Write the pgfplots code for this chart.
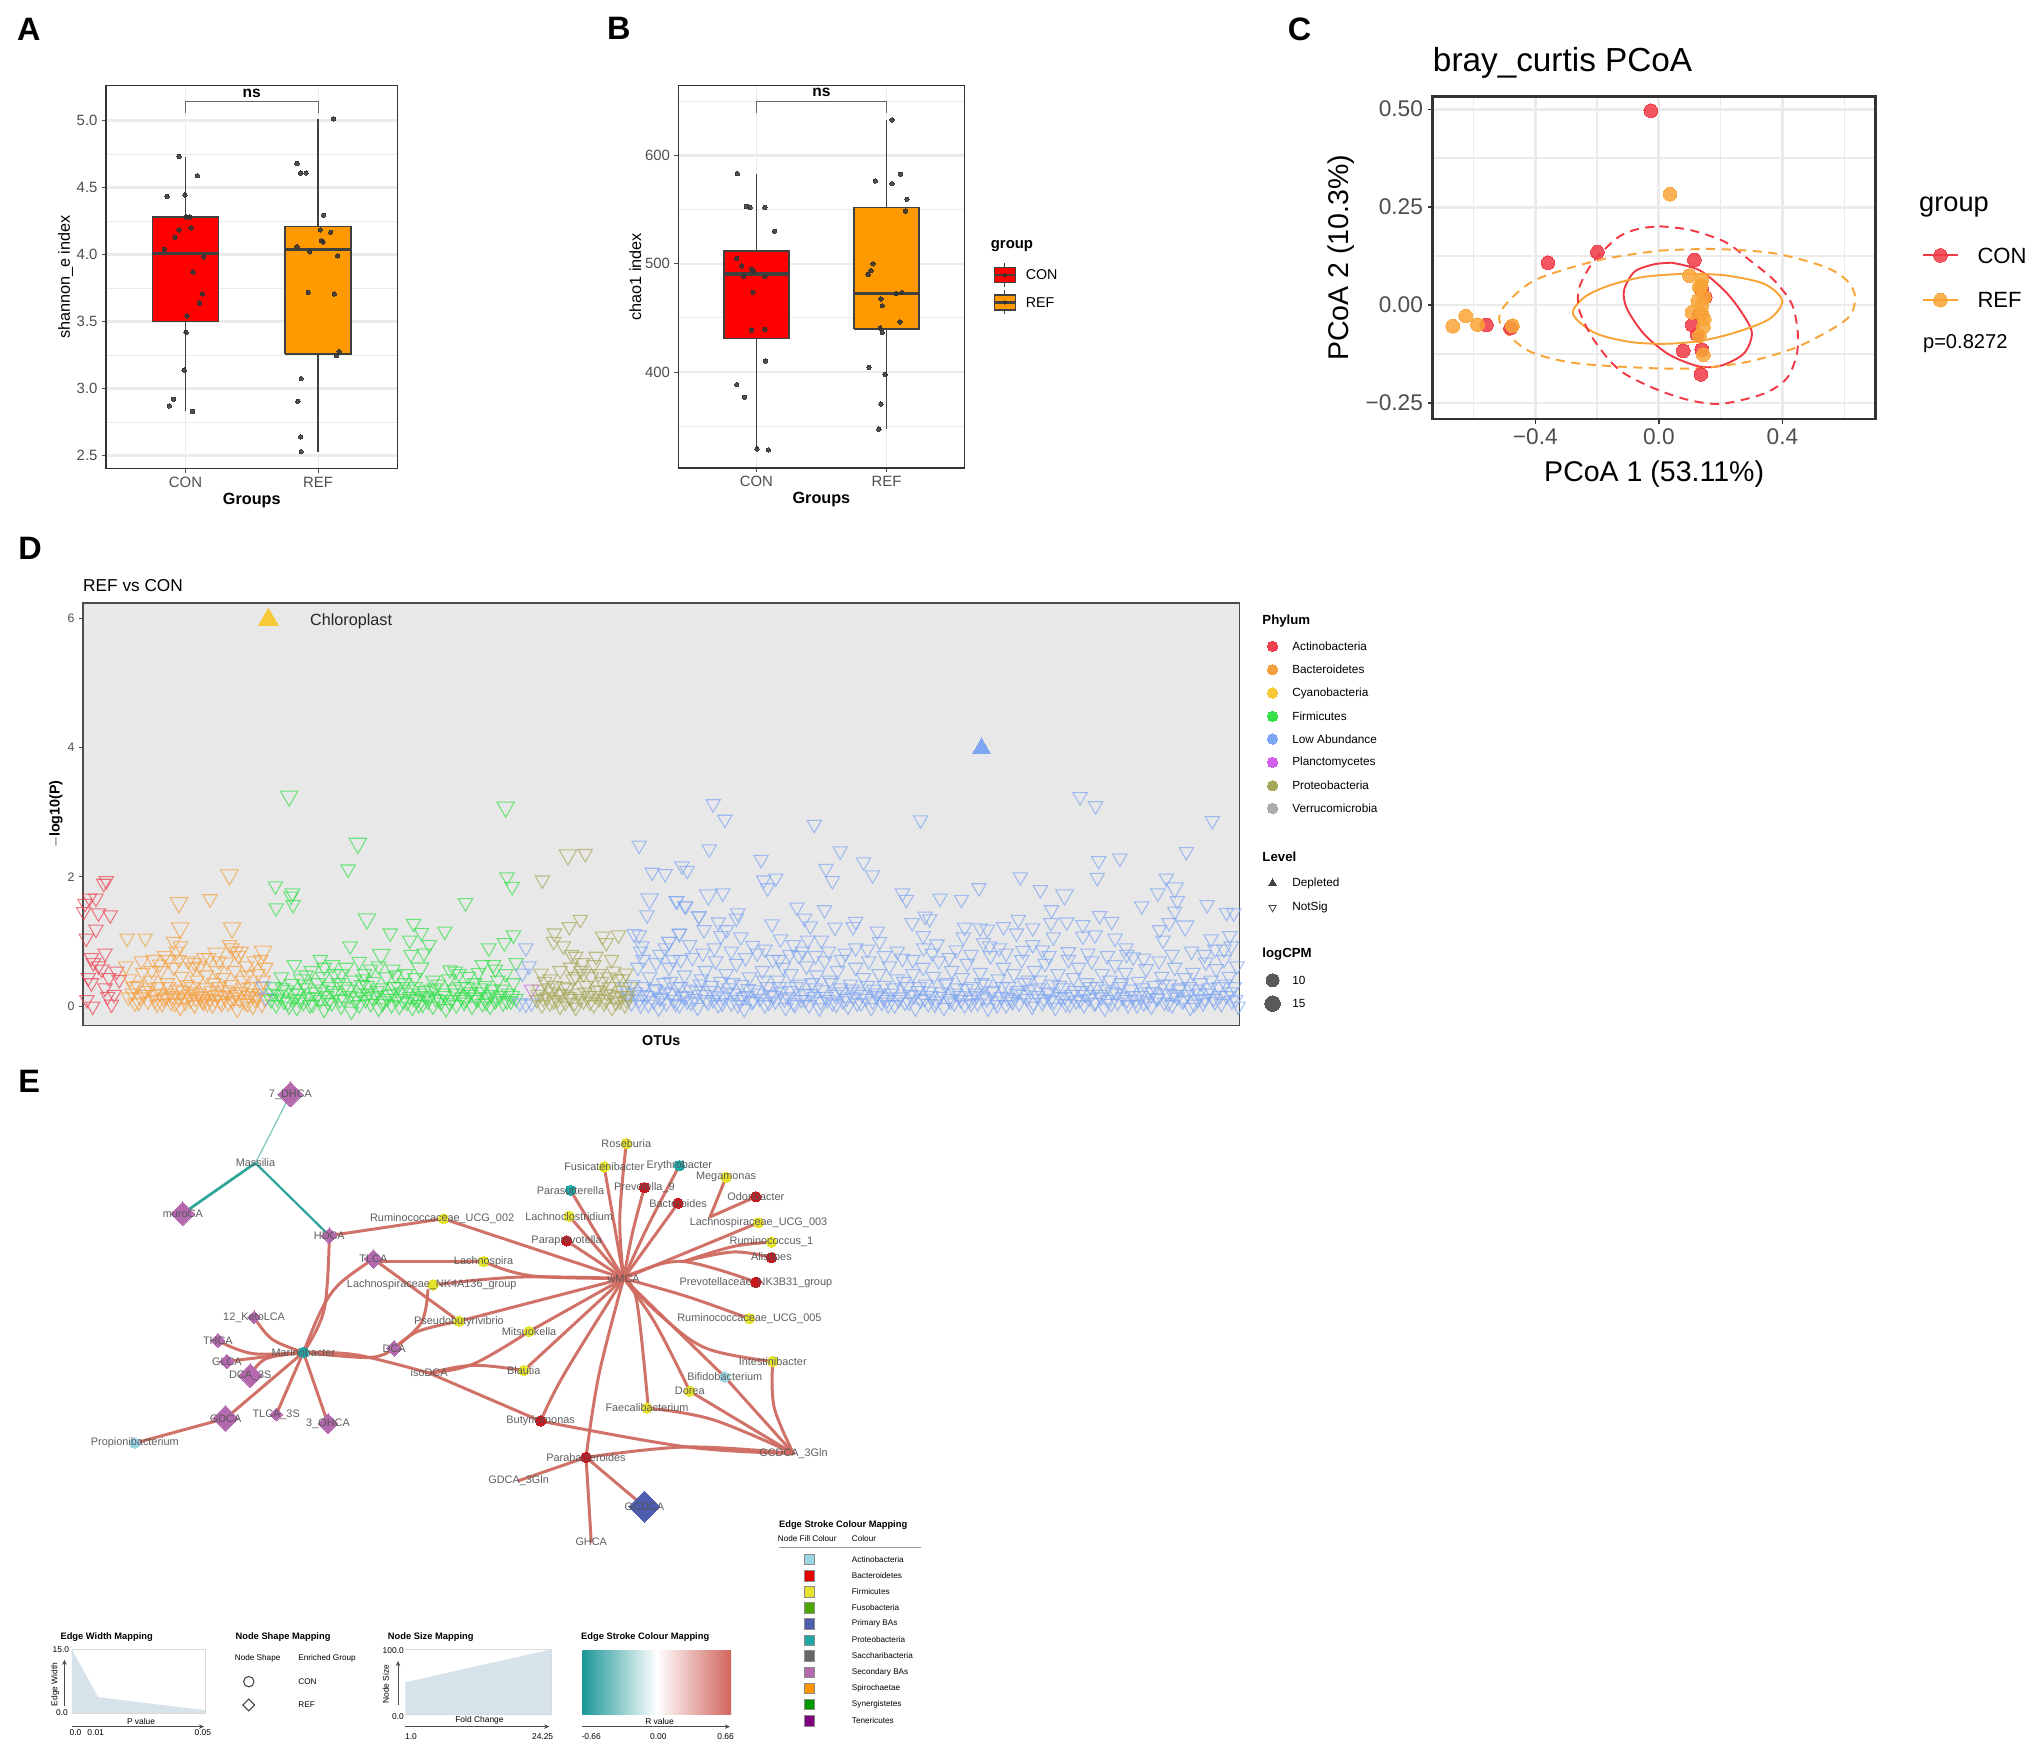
\documentclass[border=0pt]{standalone}
\usepackage{fontspec}
\setmainfont{Liberation Sans}
\usepackage{pgfplots}
\pgfplotsset{compat=1.18}
\usetikzlibrary{arrows.meta}

\definecolor{gridc}{HTML}{EBEBEB}
\definecolor{framec}{HTML}{333333}
\definecolor{tickc}{HTML}{4D4D4D}
\definecolor{conred}{HTML}{F03A45}
\definecolor{reforange}{HTML}{F9A436}
\definecolor{boxorange}{HTML}{FF9900}
\definecolor{actc}{HTML}{EE4050}
\definecolor{bacc}{HTML}{F5A040}
\definecolor{cyac}{HTML}{F8C937}
\definecolor{firc}{HTML}{34E04A}
\definecolor{lowc}{HTML}{7FA6F2}
\definecolor{plac}{HTML}{D060E8}
\definecolor{proc}{HTML}{A8A85A}
\definecolor{verc}{HTML}{ABABAB}
\definecolor{dbg}{HTML}{E8E8E8}
\definecolor{edgec}{HTML}{CF6A60}
\definecolor{edgeteal}{HTML}{2FA59A}
\definecolor{secba}{HTML}{B469AE}
\definecolor{priba}{HTML}{4E5DB0}
\definecolor{nodey}{HTML}{E6E32E}
\definecolor{noder}{HTML}{C8161E}
\definecolor{nodet}{HTML}{1FA8A8}
\definecolor{nodeb}{HTML}{9DD6E6}
\definecolor{netlab}{HTML}{555555}
\definecolor{areac}{HTML}{D7E3EB}

\newcommand{\fs}[1]{\fontsize{#1}{#1}\selectfont}

\pgfplotsset{
  boxpanel/.style={
    anchor=south west, scale only axis,
    axis line style={framec,line width=1.2pt},
    tick style={tickc,line width=0.7pt},
    major tick length=3pt, minor tick length=0pt,
    xtick pos=bottom, ytick pos=left,
    tick align=outside,
    grid=both,
    major grid style={gridc,line width=2pt},
    minor grid style={gridc,line width=0.8pt},
    x grid style={gridc,line width=0.6pt},
    tick label style={font=\fs{11.5},text=tickc},
    xlabel style={font=\fs{12.5}\bfseries,yshift=3pt},
    ylabel style={font=\fs{12.5},yshift=-4pt},
    xtick={1,2}, xticklabels={CON,REF},
    xmin=0.4, xmax=2.6,
  },
  canvas/.style={anchor=south west, scale only axis, at={(0pt,0pt)}, width=1568pt, height=1347pt,
    xmin=0, xmax=1568, ymin=0, ymax=1347, y dir=reverse, hide axis, clip=false},
  jit/.style={only marks,mark=*,mark size=1.7pt,mark options={draw=black!80,line width=0pt,fill=black!80,opacity=0.85}},
  bx/.style={draw=black!75,line width=1.2pt},
  ord/.style={only marks,mark=triangle,mark size=6.4pt,
    mark options={rotate=180,line width=0.8pt,draw opacity=0.7,fill=none}},
  ordb/.style={only marks,mark=triangle,mark size=7.8pt,
    mark options={rotate=180,line width=0.8pt,draw opacity=0.7,fill=none}},
  edgeline/.style={edgec,line width=2.3pt,smooth,tension=0.6,line cap=round,opacity=0.95},
}

% left, right, whisker x, low, q1, median, q3, high, colour
\newcommand{\boxglyph}[9]{%
  \addplot[bx] coordinates {(#3,#4)(#3,#5)};
  \addplot[bx] coordinates {(#3,#7)(#3,#8)};
  \addplot[bx,fill=#9] coordinates {(#1,#5)(#2,#5)(#2,#7)(#1,#7)(#1,#5)};
  \addplot[draw=black!75,line width=2.6pt] coordinates {(#1,#6)(#2,#6)};
}
\newcommand{\edge}[1]{\addplot[edgeline] coordinates {#1};}
\newcommand{\dmd}[4]{\addplot[only marks,mark=square*,mark size=#3pt,
  mark options={rotate=45,draw=#4,line width=0pt,fill=#4}] coordinates {(#1,#2)};}
\newcommand{\nod}[3]{\addplot[only marks,mark=*,mark size=4pt,
  mark options={draw=#3,line width=0pt,fill=#3}] coordinates {(#1,#2)};}
\newcommand{\nl}[3]{\node[font=\fs{8.4},text=netlab,inner sep=0pt,opacity=0.95] at (axis cs:#1,#2) {#3};}
\newcommand{\tx}[5]{\node[font=\fs{#3},anchor=#4,inner sep=0pt] at (axis cs:#1,#2) {#5};}
\newcommand{\swatch}[2]{\addplot[only marks,mark=square*,mark size=4pt,
  mark options={draw=black!45,line width=0.5pt,fill=#2}] coordinates {(624.4,#1)};}
\newcommand{\arrowline}[1]{\addplot[-{Stealth[length=4pt,width=3.5pt]},black!70,line width=0.8pt] coordinates {#1};}
\newcommand{\ldot}[3]{\addplot[only marks,mark=*,mark size=#3pt,
  mark options={draw=#2,line width=0pt,fill=#2}] coordinates {(981.5,#1)};}
\newcommand{\pcoa}[2]{\addplot[only marks,mark=*,mark size=5.3pt,
  mark options={draw=#1,line width=0pt,fill=#1,opacity=0.85}] coordinates {#2};}

\begin{document}
\begin{tikzpicture}
\useasboundingbox (0,0) rectangle (1568pt,1347pt);

% A: shannon
\begin{axis}[boxpanel, at={(81.7pt,985.5pt)}, width=225pt, height=295.5pt,
  ymin=2.403, ymax=5.262, ytick={2.5,3,3.5,4,4.5,5},
  yticklabels={2.5,3.0,3.5,4.0,4.5,5.0},
  minor ytick={2.75,3.25,3.75,4.25,4.75},
  xlabel={Groups}, ylabel={shannon\_e index}, clip=false]
\boxglyph{.75}{1.25}{1}{2.83}{3.5}{4.01}{4.28}{4.73}{red}
\boxglyph{1.75}{2.25}{2}{2.53}{3.26}{4.04}{4.21}{5.01}{boxorange}
\addplot[jit] coordinates {(.952,4.733)(1.09,4.589)(.862,4.435)(.995,4.445)(1.005,4.281)(1.03,4.281)
 (.952,4.185)(1.042,4.2)(.921,4.13)(.841,4.039)(1.138,3.983)(1.058,3.87)(1.127,3.708)(1.106,3.638)
 (1.01,3.542)(1.005,3.421)(.99,3.138)(.91,2.921)(.878,2.871)(1.053,2.83)};
\addplot[jit] coordinates {(2.116,5.013)(1.841,4.68)(1.868,4.609)(1.91,4.609)(2.042,4.294)(2.016,4.185)
 (2.095,4.167)(2.026,4.104)(2.037,4.094)(1.841,4.059)(1.937,4.021)(2.148,3.991)(1.926,3.718)(2.122,3.706)
 (2.159,3.277)(2.138,3.247)(1.873,3.075)(1.847,2.906)(1.868,2.641)(1.873,2.53)};
\addplot[black!60,line width=0.9pt] coordinates {(1,5.06)(1,5.144)(2,5.144)(2,5.06)};
\node[font=\fs{12}\bfseries,inner sep=0pt] at (axis cs:1.5,5.2) {ns};
\end{axis}

% B: chao1
\begin{axis}[boxpanel, at={(523.2pt,986pt)}, width=220.7pt, height=295.2pt,
  ymin=311.25, ymax=665, ytick={400,500,600}, yticklabels={400,500,600},
  minor ytick={350,450,550,650},
  xlabel={Groups}, ylabel={chao1 index}, clip=false]
\boxglyph{.75}{1.25}{1}{328.75}{430.9}{490.6}{511.6}{583.4}{red}
\boxglyph{1.75}{2.25}{2}{347.5}{439.7}{472.8}{551.9}{633}{boxorange}
\addplot[jit] coordinates {(.854,583.4)(.924,553)(.951,552)(1.065,552)(1.14,530)(.849,505)(.886,498)
 (.962,495)(.978,493)(.903,488.4)(1.065,488.4)(.973,473.75)(.962,438.75)(1.065,439.4)(1.07,410)
 (.849,388.4)(.908,376.6)(1.005,328.75)(1.092,328)};
\addplot[jit] coordinates {(2.043,633)(1.914,576.6)(2.043,574)(2.108,582.8)(2.157,559.7)(2.146,548.75)
 (1.897,500)(1.881,493.75)(1.859,490.3)(2.119,473.4)(2.076,472.5)(1.957,467.5)(1.968,461.25)(2.103,446.25)
 (1.951,440.6)(1.968,436.6)(1.865,404.4)(1.989,397.8)(1.957,370.3)(1.941,347.2)};
\addplot[black!60,line width=0.9pt] coordinates {(1,639)(1,649.7)(2,649.7)(2,639)};
\node[font=\fs{12}\bfseries,inner sep=0pt] at (axis cs:1.5,658) {ns};
\end{axis}

% C: PCoA
\begin{axis}[anchor=south west, scale only axis, at={(1105pt,1023.7pt)}, width=341.6pt, height=249pt,
  xmin=-.732, xmax=.7014, ymin=-.2914, ymax=.5328,
  axis line style={framec,line width=2pt},
  tick style={framec,line width=1pt}, major tick length=4pt, minor tick length=0pt,
  xtick pos=bottom, ytick pos=left, tick align=outside,
  xtick={-.4,0,.4}, xticklabels={−0.4,0.0,0.4},
  ytick={-.25,0,.25,.5}, yticklabels={−0.25,0.00,0.25,0.50},
  minor xtick={-.6,-.2,.2,.6}, minor ytick={-.125,.125,.375},
  grid=both, major grid style={gridc,line width=2.2pt}, minor grid style={gridc,line width=1.2pt},
  tick label style={font=\fs{17.5},text=tickc},
  xlabel={PCoA 1 (53.11\%)}, ylabel={PCoA 2 (10.3\%)},
  xlabel style={font=\fs{22},yshift=-5pt}, ylabel style={font=\fs{22},yshift=2pt},
  clip=false]
\pcoa{conred}{(-.026,.496)(-.199,.135)(-.359,.108)(.115,.115)
 (-.558,-.051)(-.48,-.059)(.15,.02)(.139,.037)(.108,-.051)(.139,-.114)(.079,-.117)(.136,-.177)(.123,-.075)(.131,-.023)}
\pcoa{reforange}{(.036,.283)(-.667,-.054)(-.625,-.028)(-.587,-.05)
 (-.474,-.053)(.099,.075)(.139,.065)(.137,.05)(.126,.011)(.147,.02)(.107,-.019)(.139,-.023)(.147,-.036)
 (.144,-.056)(.131,-.079)(.144,-.127)(.139,-.002)(.131,.046)}
% stat ellipses, traced
\addplot[conred,line width=1.5pt,smooth] coordinates {(.042,.108)(.131,.089)(.212,.037)(.268,-.019)(.301,-.071)
 (.276,-.123)(.204,-.154)(.131,-.157)(.034,-.127)(-.047,-.075)(-.103,-.010)(-.113,.037)(-.079,.085)(-.015,.104)(.042,.108)};
\addplot[reforange,line width=1.5pt,smooth] coordinates {(.082,.08)
 (.212,.076)(.341,.054)(.399,.011)(.357,-.036)(.244,-.071)(.131,-.092)(.018,-.099)(-.095,-.094)(-.208,-.071)(-.278,-.023)
 (-.241,.02)(-.16,.05)(-.047,.072)(.082,.08)};
\addplot[conred,line width=1.5pt,smooth,dash pattern=on 7pt off 5pt] coordinates {(.002,.201)(.099,.192)(.212,.162)
 (.293,.115)(.373,.063)(.43,.003)(.449,-.066)(.446,-.127)(.414,-.187)(.341,-.226)(.204,-.252)(.099,-.243)
 (-.015,-.213)(-.128,-.166)(-.208,-.092)(-.257,-.015)(-.257,.046)(-.208,.115)(-.128,.175)(-.063,.195)(.002,.201)};
\addplot[reforange,line width=1.5pt,smooth,dash pattern=on 7pt off 5pt] coordinates {(.002,.139)(.179,.143)(.373,.132)
 (.535,.098)(.608,.063)(.635,.02)(.608,-.036)(.454,-.105)(.293,-.144)(.131,-.161)
 (-.031,-.161)(-.273,-.148)(-.419,-.118)(-.507,-.058)(-.507,-.01)(-.402,.063)(-.192,.115)(.002,.139)};
\end{axis}

% D: manhattan
\begin{axis}[anchor=south west, scale only axis, at={(64pt,556pt)}, width=892pt, height=326pt,
  xmin=0, xmax=892, ymin=-.30, ymax=6.24,
  axis background/.style={fill=dbg},
  axis line style={black!70,line width=1.2pt},
  tick style={tickc,line width=0.7pt}, major tick length=3pt,
  xtick=\empty, ytick={0,2,4,6}, yticklabels={0,2,4,6}, ytick pos=left, tick align=outside,
  tick label style={font=\fs{9.5},text=tickc},
  xlabel={OTUs}, ylabel={$-$log10(P)},
  xlabel style={font=\fs{11}\bfseries,yshift=-1pt},
  ylabel style={font=\fs{11}\bfseries,yshift=-3pt},
  clip=false]
% Actinobacteria
\addplot[ord,actc] coordinates {(18,1.94)(16,1.9)(5,1.67)(10,1.67)(1.5,1.59)(.5,1.46)(12,1.44)(21,1.41)(10,1.19)
 (2.5,1.05)(6.5,.75)(17,.82)(12,.62)(4,.44)(26,.54)(20,.44)(17,.28)(6.5,.36)(3,.1)(7.5,0)(22,.03)(24,.18)(19,.15)
 (8,.67)(14.5,.57)(28,.41)};
% Bacteroidetes
\addplot[ord,bacc] coordinates {(98,1.66)(34,1.05)(48,1.05)(70,1.0)(113,.95)(75,.93)(115,.9)(122,.85)(93,.75)(86,.67)
 (33,.62)(36,.42)(38,.2)(40,.05)(42,.32)(44,.14)(46,.52)(48,.24)(50,.08)(52,.4)(54,.72)(55,.18)(57,.03)(58,.3)(60,.55)
 (62,.12)(63,.78)(65,.36)(67,.2)(68,.06)(70,.6)(72,.85)(73,.26)(75,-.02)(76,.46)(78,.14)(80,.33)(81,.7)(83,.1)(85,.22)
 (86,.02)(88,.4)(90,.62)(91,.15)(93,.06)(95,.28)(97,.75)(98,.12)(100,.02)(101,.36)(103,.55)(104,.18)(106,.08)(108,.44)
 (110,.25)(111,.68)(112,.05)(114,.33)(116,.14)(117,.55)(119,-.05)(120,.78)(122,.22)(123,.4)(125,.06)(126,.62)(128,.16)
 (129,.3)(131,.0)(132,.7)(133,.1)(135,.5)(136,.2)(138,.03)(139,.4)(140,.12)(141,.6)
 (35,.14)(39,.3)(43,.06)(47,.18)(51,.28)(56,.1)(59,.2)(61,.04)(64,.14)(66,.3)(69,.16)(71,.04)(74,.12)(77,.24)(79,.06)(82,.18)
 (84,.3)(87,.12)(89,.2)(92,.08)(94,.16)(96,.04)(99,.24)(102,.1)(105,.3)(107,.04)(109,.16)(113,.22)(115,.08)(118,.18)(121,.1)
 (124,.28)(127,.04)(130,.2)(134,.14)(137,.3)(45,.7)(53,.55)(59,.65)(66,.72)(74,.72)(85,.6)(95,.48)(105,.7)(118,.85)(127,.48)(137,.72)};
\addplot[ordb,bacc] coordinates {(113,2.03)(74,1.6)(75,1.21)(115,1.21)(139,.85)(103,.82)};
% Firmicutes
\addplot[ord,firc] coordinates {(204.5,2.12)(327,2.0)(331,1.85)(148.4,1.86)(161.5,1.75)(160.5,1.7)(162,1.57)(149,1.52)
 (295,1.6)(255,1.28)(237,1.13)(261,1.14)(279,1.16)(252,1.02)(267,.95)(206,.93)(332,1.1)(325,.98)(313,.9)(253,.8)(263,.82)
 (163,.64)(183,.72)(192.5,.64)(213,.69)(222,.57)(239,.57)(287,.54)(308,.64)(316.5,.64)(318,.57)(334,.67)
 (145,.1)(147,.3)(149,.02)(151,.18)(153,.45)(155,.08)(157,.25)(159,.0)(161,.35)(163,.12)(165,-.02)(166,.2)(168,.42)(170,.06)
 (172,.28)(174,.14)(176,.55)(177,.03)(179,.22)(181,.36)(183,.1)(185,.46)(186,-.05)(188,.16)(190,.3)(192,.05)(194,.5)(195,.2)
 (197,.36)(199,.0)(201,.12)(203,.6)(205,.26)(207,-.08)(209,.4)(211,.14)(213,.02)(215,.33)(217,.5)(218,.1)(220,.2)(222,.04)
 (224,.38)(226,.16)(228,-.03)(230,.28)(232,.08)(234,.45)(236,.18)(238,.02)(240,.3)(242,.12)(244,.0)(246,.22)(248,.36)(250,.06)
 (252,.15)(254,-.02)(256,.3)(258,.1)(260,.2)(262,.03)(264,.16)(266,.08)(268,.26)(270,.0)(272,.12)(274,.34)(276,.06)(278,.2)
 (280,-.04)(282,.42)(284,.1)(286,.26)(288,.02)(290,.5)(292,.14)(294,.06)(296,.3)(298,.18)(300,.0)(302,.36)(304,.1)(306,.22)
 (308,.04)(310,.32)(312,.14)(314,.0)(316,.26)(318,.08)(320,.4)(322,.16)(324,.05)(326,.5)(328,.2)(330,.08)(332,.36)(334,.12)
 (146,.2)(150,.12)(154,.28)(158,.06)(162,.2)(167,.1)(171,.34)(175,.02)(180,.14)(184,.26)(189,.06)(193,.24)(198,.1)(202,.3)(206,.16)
 (210,.08)(214,.2)(219,.32)(223,.14)(227,.24)(231,.04)(235,.12)(239,.2)(243,.3)(247,.08)(251,.26)(255,.12)(259,.02)(263,.24)(267,.14)
 (271,.28)(275,.1)(279,.16)(283,.05)(287,.2)(291,.3)(295,.1)(299,.22)(303,.14)(307,.28)(311,.06)(315,.18)(319,.12)(323,.26)(327,.08)(331,.16)
 (172,.48)(186,.6)(199,.5)(216,.42)(228,.62)(241,.48)(249,.5)(256,.44)(270,.4)(283,.56)(297,.46)(305,.52)};
\addplot[ordb,firc] coordinates {(159,3.25)(326,3.08)(212,2.52)(219,1.35)(230,.8)(260,.59)};
% Low abundance
\addplot[ord,lowc] coordinates {(341.6,.9)(339,.51)(344,.62)(337,.05)(341.6,.03)(346,.05)(141,.13)(139,.31)
 (429,2.49)(439,2.07)(449,2.05)(462,2.17)(466,2.1)(435,1.41)(458,1.63)(465,1.55)(475,1.39)(425,1.12)(429,1.1)(460,1.12)
 (431,.93)(452,1.0)(449,.9)(432,.72)(442,.67)(461,.72)
 (486,3.13)(495,2.89)(483,2.43)(564,2.81)(646,2.88)(769,3.24)(781,3.1)(871,2.87)(523,2.27)(584,2.4)(602,2.23)(609,2.03)
 (573,2.13)(578,1.94)(534.3,1.98)(525,1.95)(528,1.83)(493.4,1.75)(783.4,2.25)(799.7,2.29)(851,2.39)(782.3,1.99)(723,2.0)(691,1.83)
 (835.5,1.98)(829,1.75)(738.4,1.8)(632,1.75)(635,1.65)(661,1.67)(677.5,1.65)(457.6,1.63)(464.2,1.55)(550.6,1.53)(572,1.49)(844,1.63)
 (816.6,1.55)(867,1.57)(882,1.45)(887.5,1.44)(747,1.49)(842,1.47)(475,1.4)(505,1.44)(504,1.36)(490,1.3)(556.5,1.36)(531.4,1.27)(561,1.24)
 (580,1.22)(596,1.31)(594,1.23)(649.5,1.39)(653,1.35)(639.5,1.29)(784,1.4)(793.4,1.31)(758.7,1.3)(771.2,1.26)(746.5,1.29)(721.4,1.34)
 (680,1.22)(692,1.21)(697.5,1.19)(710,1.23)(720,1.13)(732.5,1.21)(837.7,1.29)(830.3,1.18)(460,1.13)(479,1.18)(492,1.09)(496.3,1.18)(507.4,1.07)
 (612.6,1.16)(648,1.09)(679,1.07)(748.4,1.07)(771.2,1.08)(780.5,1.1)(833,1.02)(870,1.04)(884.5,1.09)(796,1.05)(538,1.04)(559,1.02)(569.4,1.02)
 (614.4,1.0)(694.5,.98)(732.5,.95)(885.6,.93)(804.5,.9)(452,1.0)(548,.95)(516.6,.94)(596,.9)(648.4,.9)(658.7,.96)(673.5,.87)(699.3,.93)(706.7,.9)(740,.87)(873,.88)
 (418,.3)(421,.12)(423,.05)(426,.22)(428,.6)(430,.02)(433,.3)(435,.16)(437,.45)(440,.08)(442,.25)(444,-.03)(446,.14)(448,.36)(450,.05)(452,.6)(454,.2)(456,.1)
 (458,.3)(460,.02)(462,.16)(464,.48)(466,.08)(468,.26)(470,.75)(472,.12)(474,-.02)(476,.34)(478,.18)(480,.55)(482,.06)(484,.24)(486,.1)(488,.7)(490,.02)(492,.38)
 (494,.14)(496,.5)(498,.28)(500,.05)(502,.2)(504,.66)(506,.1)(508,.33)(510,-.04)(512,.16)(514,.45)(516,.07)(518,.25)(520,.82)(522,.12)(524,.55)(526,.02)(528,.3)
 (530,.18)(532,.72)(534,.08)(536,.4)(538,.22)(540,.6)(542,-.02)(544,.14)(546,.5)(548,.05)(550,.3)(552,.78)(554,.1)(556,.2)(558,.62)(560,.02)(562,.36)(564,.15)
 (566,.48)(568,-.03)(570,.25)(572,.7)(574,.1)(576,.4)(578,.05)(580,.18)(582,.55)(584,.28)(586,.08)(588,.82)(590,.0)(592,.34)(594,.14)(596,.6)(598,.22)(600,.05)
 (602,.44)(604,.12)(606,.7)(608,-.02)(610,.26)(612,.16)(614,.5)(616,.06)(618,.32)(620,.1)(622,.62)(624,.2)(626,.02)(628,.42)(630,.14)(632,.74)(634,.06)(636,.3)
 (638,.18)(640,.5)(642,-.03)(644,.24)(646,.1)(648,.6)(650,.34)(652,.04)(654,.16)(656,.46)(658,.08)(660,.7)(662,.22)(664,-.02)(666,.36)(668,.12)(670,.55)(672,.05)
 (674,.28)(676,.16)(678,.44)(680,.02)(682,.66)(684,.1)(686,.3)(688,.2)(690,.05)(692,.52)(694,.14)(696,.34)(698,-.03)(700,.78)(702,.24)(704,.08)(706,.42)(708,.15)
 (710,.6)(712,.02)(714,.3)(716,.1)(718,.5)(720,.2)(722,.05)(724,.72)(726,.36)(728,.12)(730,.26)(732,.0)(734,.55)(736,.16)(738,.4)(740,.06)(742,.66)(744,.22)
 (746,.1)(748,.34)(750,-.02)(752,.5)(754,.14)(756,.28)(758,.04)(760,.84)(762,.18)(764,.44)(766,.08)(768,.6)(770,.24)(772,.02)(774,.36)(776,.12)(778,.7)(780,.05)
 (782,.3)(784,.18)(786,.5)(788,-.03)(790,.1)(792,.4)(794,.22)(796,.64)(798,.06)(800,.3)(802,.14)(804,.52)(806,.02)(808,.26)(810,.76)(812,.1)(814,.38)(816,.16)
 (818,.05)(820,.58)(822,.22)(824,.0)(826,.32)(828,.12)(830,.7)(832,.46)(834,.06)(836,.2)(838,.34)(840,.02)(842,.6)(844,.14)(846,.28)(848,.08)(850,.44)(852,.18)
 (854,-.02)(856,.52)(858,.26)(860,.1)(862,.36)(864,.05)(866,.68)(868,.2)(870,.4)(872,.12)(874,.58)(876,.3)(878,.04)(880,.72)(882,.16)(884,.46)(886,.08)(888,.3)(890,.62)(891,.0)
 (420,.2)(424,.33)(429,.1)(432,.18)(436,.03)(441,.27)(445,.12)(449,.22)(453,.38)(457,.04)(461,.3)(465,.15)(469,.06)(473,.24)(477,.42)(481,.1)(485,.32)(489,.17)(493,.05)
 (497,.22)(501,.36)(505,.02)(509,.14)(513,.27)(517,.09)(521,.2)(525,.4)(529,.06)(533,.16)(537,.3)(541,.11)(545,.24)(549,.02)(553,.34)(557,.1)(561,.19)(565,.28)(569,.07)
 (573,.15)(577,.36)(581,.03)(585,.22)(589,.12)(593,.26)(597,.05)(601,.18)(605,.32)(609,.08)(613,.2)(617,.14)(621,.02)(625,.28)(629,.1)(633,.38)(637,.06)(641,.17)(645,.3)
 (649,.12)(653,.23)(657,.03)(661,.15)(665,.34)(669,.08)(673,.2)(677,.1)(681,.27)(685,.04)(689,.16)(693,.36)(697,.11)(701,.22)(705,.02)(709,.3)(713,.13)(717,.07)(721,.24)
 (725,.18)(729,.4)(733,.05)(737,.28)(741,.12)(745,.2)(749,.08)(753,.32)(757,.15)(761,.03)(765,.24)(769,.1)(773,.18)(777,.3)(781,.06)(785,.14)(789,.26)(793,.04)(797,.2)
 (801,.36)(805,.1)(809,.16)(813,.02)(817,.28)(821,.08)(825,.22)(829,.13)(833,.34)(837,.05)(841,.18)(845,.26)(849,.1)(853,.3)(857,.03)(861,.2)(865,.12)(869,.28)(873,.07)
 (877,.16)(881,.34)(885,.22)(889,.1)
 (430,.85)(445,.8)(455,.72)(468,.95)(478,.82)(487,.9)(500,.85)(511,.75)(526,.88)(537,.72)(545,.8)(555,.85)(565,.78)(575,.85)(585,.72)(605,.88)(618,.78)(628,.85)
 (640,.72)(655,.82)(668,.75)(685,.8)(712,.82)(725,.86)(745,.78)(760,.72)(775,.82)(790,.78)(805,.8)(818,.74)(840,.8)(855,.85)(865,.8)(880,.88)};
\addplot[ordb,lowc] coordinates {(437,1.66)(482.3,1.72)(757,1.72)(842,1.83)(850,1.24)};
\addplot[ord,plac] coordinates {(346,.26)};
% Proteobacteria
\addplot[ord,proc] coordinates {(387.4,2.36)(354.3,1.95)(383.6,1.34)(375,1.23)(363.6,1.13)(363,1.0)(370.5,.93)(400.8,1.08)(413,1.1)(403.6,.98)
 (376.7,.8)(380,.77)(395.6,.77)(407.7,.72)(385.3,.67)(394,.64)(353.3,.51)(380,.46)(418.7,.51)(409.4,.54)
 (350,.1)(352,.26)(354,.02)(356,.38)(358,.14)(360,.05)(362,.22)(364,.32)(366,.1)(368,.0)(370,.18)(372,.06)(374,.28)(376,.12)(378,.42)(380,-.02)
 (382,.2)(384,.55)(386,.08)(388,.32)(390,.16)(392,.45)(394,.02)(396,.25)(398,.12)(400,.38)(402,.05)(404,.2)(406,.3)(408,-.02)(410,.14)(412,.42)(414,.08)(416,.24)(418,.02)(420,.16)(422,.3)
 (351,.18)(355,.12)(359,.28)(363,.08)(367,.2)(371,.3)(375,.15)(379,.05)(383,.12)(387,.22)(391,.06)(395,.16)(399,.24)(403,.1)(407,.18)(411,.06)(415,.16)(419,.1)
 (360,.42)(368,.55)(376,.6)(386,.5)(398,.5)(405,.45)(416,.42)};
\addplot[ordb,proc] coordinates {(374,2.34)};
% depleted
\addplot[only marks,mark=triangle*,mark size=9pt,mark options={draw=cyac,line width=0pt,fill=cyac}] coordinates {(143,5.98)};
\addplot[only marks,mark=triangle*,mark size=8pt,mark options={draw=lowc,line width=0pt,fill=lowc}] coordinates {(693,3.99)};
\node[font=\fs{12.5},anchor=west,inner sep=0pt,text=black!85] at (axis cs:175,5.95) {Chloroplast};
\end{axis}

% canvas in picture coordinates: letters, legends, network
\begin{axis}[canvas]
% panel letters
\tx{13}{23}{25}{west}{\bfseries A}
\tx{468}{22}{25}{west}{\bfseries B}
\tx{993}{23}{25}{west}{\bfseries C}
\tx{14}{423}{25}{west}{\bfseries D}
\tx{14}{834}{25}{west}{\bfseries E}

% legend of B
\tx{764}{190}{11.5}{west}{\bfseries group}
\addplot[black!75,line width=0.8pt] coordinates {(775,203)(775,221)};
\addplot[black!75,line width=0.8pt] coordinates {(775,224)(775,242)};
\addplot[black!75,line width=1pt,fill=red] coordinates {(767,206.5)(783,206.5)(783,218)(767,218)(767,206.5)};
\addplot[black!75,line width=1pt,fill=boxorange] coordinates {(767,227.5)(783,227.5)(783,239)(767,239)(767,227.5)};
\addplot[black!75,line width=1.6pt] coordinates {(767,212.3)(783,212.3)};
\addplot[black!75,line width=1.6pt] coordinates {(767,233.3)(783,233.3)};
\addplot[only marks,mark=*,mark size=1.5pt,mark options={draw=black!80,fill=black!80}] coordinates {(775,212.3)(775,233.3)};
\tx{791}{212}{11}{west}{CON}
\tx{791}{233}{11}{west}{REF}

% title and legend of C
\tx{1105}{48.5}{25.7}{west}{bray\_curtis PCoA}
\tx{1480}{160}{21}{west}{group}
\addplot[conred,line width=1.6pt] coordinates {(1483,197)(1510,197)};
\addplot[reforange,line width=1.6pt] coordinates {(1483,231.5)(1510,231.5)};
\pcoa{conred}{(1496.6,197)}
\pcoa{reforange}{(1496.6,231.5)}
\tx{1525}{197}{17}{west}{CON}
\tx{1525}{231.5}{17}{west}{REF}
\tx{1483}{265}{15.5}{west}{p=0.8272}

% legend of D
\tx{64}{452}{13.3}{west}{REF vs CON}
\tx{973.5}{479}{10.2}{west}{\bfseries Phylum}
\tx{973.5}{661}{10.2}{west}{\bfseries Level}
\tx{973.5}{736}{10.2}{west}{\bfseries logCPM}
\ldot{498.5}{actc}{4}\ldot{516.5}{bacc}{4}\ldot{534.5}{cyac}{4}\ldot{552.5}{firc}{4}
\ldot{570}{lowc}{4}\ldot{588}{plac}{4}\ldot{606}{proc}{4}\ldot{623.5}{verc}{4}
\tx{996.5}{498.5}{9.1}{west}{Actinobacteria}
\tx{996.5}{516.5}{9.1}{west}{Bacteroidetes}
\tx{996.5}{534.5}{9.1}{west}{Cyanobacteria}
\tx{996.5}{552.5}{9.1}{west}{Firmicutes}
\tx{996.5}{570}{9.1}{west}{Low Abundance}
\tx{996.5}{588}{9.1}{west}{Planctomycetes}
\tx{996.5}{606}{9.1}{west}{Proteobacteria}
\tx{996.5}{623.5}{9.1}{west}{Verrucomicrobia}
\addplot[only marks,mark=triangle*,mark size=3.2pt,mark options={draw=black!75,line width=0pt,fill=black!75}] coordinates {(981.5,681)};
\addplot[only marks,mark=triangle,mark size=3.2pt,mark options={rotate=180,black!75,line width=0.6pt}] coordinates {(981.5,700)};
\tx{996.5}{681}{9.1}{west}{Depleted}
\tx{996.5}{700}{9.1}{west}{NotSig}
\ldot{756}{black!65}{5}\ldot{774}{black!65}{6}
\tx{996.5}{756}{9.1}{west}{10}
\tx{996.5}{774}{9.1}{west}{15}

% network edges
\addplot[edgeteal!60,line width=1pt] coordinates {(197,897)(224,844)};
\addplot[edgeteal,line width=2.1pt] coordinates {(197,897)(141,936)};
\addplot[edgeteal,line width=1.7pt] coordinates {(197,897)(254,953)};
\edge{(254,953)(342,940)}
\edge{(342,940)(481,986)}
\edge{(254,953)(250,1010)(234,1043)}
\edge{(288,971)(262,990)(248,1010)(234,1043)}
\edge{(288,973)(373,973)}
\edge{(373,973)(410,984)(481,986)}
\edge{(288,971)(354,1019)}
\edge{(334,991)(400,985)(481,986)}
\edge{(330,995)(325,1020)(304,1040)}
\edge{(354,1019)(322,1027)(304,1040)}
\edge{(354,1019)(481,986)}
\edge{(234,1043)(285,1047)(304,1040)}
\edge{(234,1043)(275,1045)(331,1059)}
\edge{(331,1059)(365,1052)(408,1027)}
\edge{(408,1027)(481,986)}
\edge{(331,1059)(365,1053)(404,1057)}
\edge{(404,1057)(481,986)}
\edge{(331,1059)(417,1096)}
\edge{(417,1096)(435,1060)(481,986)}
\edge{(417,1096)(530,1116)(612,1121)}
\edge{(452,1124)(462,1060)(481,986)}
\edge{(452,1124)(530,1116)(612,1121)}
\edge{(452,1124)(400,1142)}
\edge{(452,1124)(497,1162)}
\edge{(452,1124)(456,1189)}
\edge{(500,1086)(491,1003)(481,986)}
\edge{(500,1086)(550,1095)(612,1121)}
\edge{(532,1073)(505,1020)(481,986)}
\edge{(532,1073)(612,1121)}
\edge{(559,1062)(481,986)}
\edge{(559,1062)(612,1121)}
\edge{(596,1050)(545,1040)(510,1015)(481,986)}
\edge{(596,1050)(597,1085)(612,1121)}
\edge{(578,1017)(530,1000)(481,986)}
\edge{(583.5,989)(527,973)(488.5,982)(481,986)}
\edge{(595,970)(565.6,965.6)(527,973)}
\edge{(595,958)(565,961.5)(527,973)}
\edge{(585,943)(481,986)}
\edge{(583,923)(547.6,938.6)}
\edge{(560,908)(547.6,938.6)}
\edge{(523,928)(481,986)}
\edge{(497,916)(488,950)(481,986)}
\edge{(524,899)(500,945)(481,986)}
\edge{(466,900)(481,986)}
\edge{(483,882)(478,940)(481,986)}
\edge{(440,918)(481,986)}
\edge{(439,938)(481,986)}
\edge{(437,957)(481,986)}
\edge{(234,1043)(210,1033)(196,1016)}
\edge{(234,1043)(195,1044)(168,1034)}
\edge{(234,1043)(175,1050)}
\edge{(234,1043)(205,1048)(193,1061)}
\edge{(234,1043)(174,1094)}
\edge{(174,1094)(104,1113)}
\edge{(234,1043)(213,1091)}
\edge{(234,1043)(253,1098)}

% network nodes
\dmd{224}{844}{6.8}{secba}\dmd{141}{936}{6.4}{secba}\dmd{254}{953}{4.2}{secba}\dmd{288}{971}{5}{secba}
\dmd{196}{1016}{3.5}{secba}\dmd{168}{1034}{3.9}{secba}\dmd{175}{1050}{3.9}{secba}\dmd{193}{1061}{6.4}{secba}
\dmd{174}{1094}{7}{secba}\dmd{213}{1091}{3.5}{secba}\dmd{253}{1098}{5.3}{secba}\dmd{304}{1040}{4.2}{secba}
\dmd{497}{1162}{8.5}{priba}
\nod{342}{940}{nodey}\nod{373}{973}{nodey}\nod{334}{991}{nodey}\nod{354}{1019}{nodey}\nod{408}{1027}{nodey}
\nod{404}{1057}{nodey}\nod{499}{1086}{nodey}\nod{532}{1073}{nodey}\nod{596}{1050}{nodey}\nod{578}{1017}{nodey}
\nod{595}{958}{nodey}\nod{585}{943}{nodey}\nod{560}{908}{nodey}\nod{466}{900}{nodey}\nod{483}{882}{nodey}\nod{439}{938}{nodey}
\nod{234}{1043}{nodet}\nod{524}{899}{nodet}\nod{440}{918}{nodet}
\nod{104}{1113}{nodeb}\nod{559}{1062}{nodeb}
\nod{417}{1096}{noder}\nod{452}{1124}{noder}\nod{583}{989}{noder}\nod{595}{970}{noder}\nod{583}{923}{noder}
\nod{523}{928}{noder}\nod{497}{916}{noder}\nod{437}{957}{noder}

% edge width mapping
\tx{46.5}{1263}{7.2}{west}{\bfseries Edge Width Mapping}
\addplot[fill=areac,draw=none] coordinates {(55.4,1272)(75.7,1309)(158.3,1319)(158.3,1321.4)(55.4,1321.4)(55.4,1272)};
\addplot[black!15,line width=0.7pt] coordinates {(55.4,1272)(158.3,1272)(158.3,1321.4)(55.4,1321.4)};
\arrowline{(49.7,1316)(49.7,1280)}
\arrowline{(55.4,1331.7)(157.4,1331.7)}
\tx{47}{1272.6}{6.5}{center}{15.0}
\tx{47.8}{1321}{6.5}{center}{0.0}
\node[font=\fs{6.5},rotate=90,inner sep=0pt] at (axis cs:42.6,1299) {Edge Width};
\tx{108.8}{1328}{6.5}{center}{P value}
\tx{58.2}{1336.5}{6.5}{center}{0.0}
\tx{73.8}{1336.5}{6.5}{center}{0.01}
\tx{156.4}{1336.5}{6.5}{center}{0.05}

% node shape mapping
\tx{181.5}{1263}{7.2}{west}{\bfseries Node Shape Mapping}
\tx{181}{1279.3}{6.3}{west}{Node Shape}
\tx{230}{1279.3}{6.3}{west}{Enriched Group}
\addplot[only marks,mark=o,mark size=4pt,mark options={black!75,line width=0.8pt}] coordinates {(191.9,1297)};
\addplot[only marks,mark=square,mark size=3.2pt,mark options={rotate=45,black!75,line width=0.8pt}] coordinates {(191.9,1315)};
\tx{230}{1297}{6.3}{west}{CON}
\tx{230}{1315}{6.3}{west}{REF}

% node size mapping
\tx{299}{1263}{7.2}{west}{\bfseries Node Size Mapping}
\addplot[fill=areac,draw=none] coordinates {(312.7,1297.5)(425.6,1272)(425.6,1322)(312.7,1322)(312.7,1297.5)};
\addplot[black!15,line width=0.7pt] coordinates {(312.7,1272)(425.6,1272)(425.6,1322)(312.7,1322)};
\arrowline{(307,1315)(307,1281)}
\arrowline{(312.7,1331.7)(423.7,1331.7)}
\tx{303.3}{1273}{6.5}{center}{100.0}
\tx{307}{1324}{6.5}{center}{0.0}
\node[font=\fs{6.5},rotate=90,inner sep=0pt] at (axis cs:297.6,1299) {Node Size};
\tx{369.8}{1326.6}{6.5}{center}{Fold Change}
\tx{317}{1339}{6.5}{center}{1.0}
\tx{418.5}{1339}{6.5}{center}{24.25}

% edge stroke colour mapping
\tx{448}{1263}{7.2}{west}{\bfseries Edge Stroke Colour Mapping}
\shade[left color=nodet!90!black,right color=edgec!95!red,middle color=white] (axis cs:449.2,1272.6) rectangle (axis cs:563.9,1322);
\arrowline{(449,1331.7)(563,1331.7)}
\tx{508.7}{1327.9}{6.5}{center}{R value}
\tx{456}{1339}{6.5}{center}{-0.66}
\tx{507.7}{1339}{6.5}{center}{0.00}
\tx{559.6}{1339}{6.5}{center}{0.66}

% node fill legend
\tx{600.7}{1176.4}{7.2}{west}{\bfseries Edge Stroke Colour Mapping}
\tx{599.8}{1186.7}{6.3}{west}{Node Fill Colour}
\tx{656.9}{1186.7}{6.3}{west}{Colour}
\addplot[black!40,line width=0.8pt] coordinates {(600.7,1193.7)(710.7,1193.7)};
\swatch{1202.7}{nodeb}\swatch{1215.3}{red!90!black}\swatch{1227.6}{nodey}\swatch{1240}{green!50!black!70!yellow}
\swatch{1252.3}{priba}\swatch{1264.9}{nodet}\swatch{1277.2}{black!60}\swatch{1289.8}{secba}
\swatch{1302.1}{orange!85!yellow}\swatch{1314.7}{green!60!black}\swatch{1327.1}{violet}
\tx{656.9}{1202.7}{6.3}{west}{Actinobacteria}
\tx{656.9}{1215.3}{6.3}{west}{Bacteroidetes}
\tx{656.9}{1227.6}{6.3}{west}{Firmicutes}
\tx{656.9}{1240}{6.3}{west}{Fusobacteria}
\tx{656.9}{1252.3}{6.3}{west}{Primary BAs}
\tx{656.9}{1264.9}{6.3}{west}{Proteobacteria}
\tx{656.9}{1277.2}{6.3}{west}{Saccharibacteria}
\tx{656.9}{1289.8}{6.3}{west}{Secondary BAs}
\tx{656.9}{1302.1}{6.3}{west}{Spirochaetae}
\tx{656.9}{1314.7}{6.3}{west}{Synergistetes}
\tx{656.9}{1327.1}{6.3}{west}{Tenericutes}
\end{axis}

% network labels, above the nodes
\begin{axis}[canvas]
\nl{224}{844}{7\_DHCA}\nl{197}{897}{Massilia}\nl{141}{936}{muroCA}\nl{254}{953}{HDCA}
\nl{341}{940}{Ruminococcaceae\_UCG\_002}\nl{288}{971}{TLCA}\nl{373}{973}{Lachnospira}
\nl{333}{991}{Lachnospiraceae\_NK4A136\_group}\nl{481}{986}{wMCA}\nl{354}{1019}{Pseudobutyrivibrio}
\nl{408}{1027}{Mitsuokella}\nl{196}{1016}{12\_KetoLCA}\nl{168}{1034}{THCA}\nl{234}{1043}{Marinobacter}
\nl{175}{1050}{GLCA}\nl{193}{1061}{DCA\_3S}\nl{304}{1040}{DCA}\nl{331}{1059}{isoDCA}\nl{404}{1057}{Blautia}
\nl{174}{1094}{GDCA}\nl{213}{1091}{TLCA\_3S}\nl{253}{1098}{3\_OHCA}\nl{104}{1113}{Propionibacterium}
\nl{417}{1096}{Butyricimonas}\nl{452}{1124}{Parabacteroides}\nl{400}{1142}{GDCA\_3Gln}\nl{497}{1162}{GCDCA}
\nl{456}{1189}{GHCA}\nl{612}{1121}{GCDCA\_3Gln}\nl{499}{1086}{Faecalibacterium}\nl{532}{1073}{Dorea}
\nl{559}{1062}{Bifidobacterium}\nl{596}{1050}{Intestinibacter}\nl{578}{1017}{Ruminococcaceae\_UCG\_005}
\nl{583}{989}{Prevotellaceae\_NK3B31\_group}\nl{595}{970}{Alistipes}\nl{595}{958}{Ruminococcus\_1}
\nl{585}{943}{Lachnospiraceae\_UCG\_003}\nl{583}{923}{Odoribacter}\nl{560}{908}{Megamonas}\nl{523}{928}{Bacteroides}
\nl{497}{916}{Prevotella\_9}\nl{524}{899}{Erythrobacter}\nl{466}{900}{Fusicatenibacter}\nl{483}{882}{Roseburia}
\nl{440}{918}{Parasutterella}\nl{439}{938}{Lachnoclostridium}\nl{437}{957}{Paraprevotella}
\end{axis}
\end{tikzpicture}
\end{document}
